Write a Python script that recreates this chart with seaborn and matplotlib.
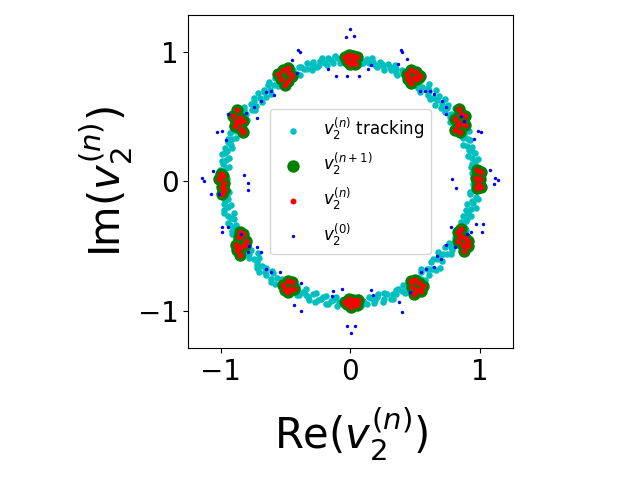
import numpy as np
import pandas as pd
import matplotlib
matplotlib.use("Agg")
import matplotlib.pyplot as plt
import seaborn as sns

# ---- v2^(n) tracking (magnitude, phase in degrees) ----
track_phase_deg = [
    88, 86, 84, 82, 81, 79, 77, 76, 74, 72, 70, 68, 66, 64,
    58, 56, 55, 53, 52, 50, 48, 47, 45, 44, 42, 40, 38, 36, 34, 32,
    28, 26, 24, 22, 20, 18, 16, 15, 13, 11, 9, 7, 5, 3,
    -3, -5, -7, -9, -11, -13, -15, -17, -19, -21, -23, -25, -27,
    -33, -35, -36, -38, -39, -41, -42, -44, -45, -47, -48, -50, -52, -54, -56, -58,
    -62, -64, -66, -68, -70, -72, -74, -76, -78, -80, -82, -84, -86, -88,
    -92, -94, -96, -98, -100, -102, -104, -106, -108, -110, -112, -114, -116, -118,
    -122, -124, -126, -127, -129, -131, -133, -135, -136, -138, -140, -141, -143, -145, -147, -149,
    -152, -154, -156, -158, -160, -162, -164, -166, -168, -170, -172, -174, -176, -178,
    178, 176, 174, 172, 170, 168, 166, 164, 162, 160, 158, 156, 154, 152,
    148, 146, 144, 142, 141, 139, 137, 135, 133, 131, 129, 127, 125, 123, 121,
    118, 116, 114, 112, 110, 108, 106, 104, 102, 100, 98, 96, 94, 92,
    87, 85, 83, 80, 78, 75, 73, 71, 69, 67, 65, 62,
    59, 57, 54, 51, 49, 46, 43, 41, 39, 37, 35, 33, 31,
    29, 27, 25, 23, 21, 19, 17, 14, 12, 10, 8, 6, 4, 2, 1,
    -1, -2, -4, -6, -8, -10, -12, -14, -16, -18, -20, -22, -24, -26, -28, -29,
    -31, -32, -34, -37, -40, -43, -46, -49, -51, -53, -55, -57, -59,
    -61, -63, -65, -67, -69, -71, -73, -75, -77, -79, -81, -83, -85, -87, -89,
    -91, -93, -95, -97, -99, -101, -103, -105, -107, -109, -111, -113, -115, -117, -119,
    -121, -123, -125, -128, -130, -132, -134, -137, -139, -142, -144, -146, -148, -150,
    -151, -153, -155, -157, -159, -161, -163, -165, -167, -169, -171, -173, -175, -177, -179,
    179, 177, 175, 173, 171, 169, 167, 165, 163, 161, 159, 157, 155, 153, 151,
    149, 147, 145, 143, 140, 138, 136, 134, 132, 130, 128, 126, 124, 122, 120,
    119, 117, 115, 113, 111, 109, 107, 105, 103, 101, 99, 97, 95, 93, 91,
]
track_mag = [
    0.93, 0.95, 0.92, 0.96, 0.93, 0.94, 0.91, 0.95, 0.93, 0.96, 0.92, 0.94, 0.90, 0.93,
    0.93, 0.90, 0.96, 0.92, 0.88, 0.94, 0.90, 0.97, 0.91, 0.95, 0.88, 0.93, 0.96, 0.91, 0.94, 0.97,
    0.97, 0.94, 0.99, 0.95, 0.97, 0.92, 0.98, 0.95, 0.99, 0.96, 0.98, 0.94, 0.97, 1.00,
    0.97, 0.93, 0.98, 0.95, 0.92, 0.96, 0.94, 0.91, 0.95, 0.93, 0.97, 0.90, 0.94,
    0.93, 0.89, 0.96, 0.91, 0.87, 0.94, 0.90, 0.96, 0.88, 0.93, 0.91, 0.95, 0.89, 0.93, 0.96, 0.91,
    0.93, 0.96, 0.91, 0.94, 0.97, 0.92, 0.95, 0.90, 0.94, 0.92, 0.96, 0.93, 0.90, 0.95,
    0.95, 0.92, 0.97, 0.93, 0.96, 0.91, 0.94, 0.97, 0.92, 0.95, 0.90, 0.96, 0.93, 0.97,
    0.96, 0.93, 0.98, 0.94, 0.97, 0.92, 0.96, 0.99, 0.94, 0.97, 0.92, 0.95, 0.98, 0.93, 0.96, 0.99,
    0.98, 0.95, 1.00, 0.96, 0.99, 0.94, 0.98, 1.00, 0.96, 0.99, 0.95, 1.01, 0.97, 0.99,
    0.98, 1.00, 0.96, 0.99, 0.97, 1.01, 0.98, 0.95, 0.99, 0.97, 1.00, 0.96, 0.98, 0.95,
    0.96, 0.99, 0.94, 0.97, 0.93, 0.98, 0.95, 0.92, 0.97, 0.94, 0.99, 0.93, 0.96, 0.98, 0.94,
    0.96, 0.93, 0.97, 0.94, 0.98, 0.95, 0.92, 0.96, 0.94, 0.97, 0.93, 0.96, 0.94, 0.97,
    0.96, 0.91, 0.94, 0.97, 0.92, 0.94, 0.90, 0.94, 0.97, 0.91, 0.95, 0.96,
    0.97, 0.94, 0.89, 0.97, 0.93, 0.89, 0.92, 0.97, 0.90, 0.94, 0.99, 0.92, 0.90,
    0.93, 0.98, 0.93, 1.00, 0.93, 0.98, 0.94, 0.97, 0.93, 1.00, 0.95, 0.99, 0.94, 0.96, 1.01,
    0.95, 1.00, 0.96, 0.93, 1.00, 0.96, 0.99, 0.92, 0.97, 0.95, 0.91, 0.96, 0.93, 0.97, 0.92, 0.95,
    0.96, 0.90, 0.95, 0.94, 0.90, 0.88, 0.95, 0.90, 0.87, 0.96, 0.91, 0.94, 0.95,
    0.96, 0.90, 0.94, 0.91, 0.93, 0.96, 0.90, 0.97, 0.92, 0.96, 0.91, 0.95, 0.97, 0.92, 0.94,
    0.92, 0.96, 0.94, 0.90, 0.94, 0.97, 0.92, 0.95, 0.90, 0.97, 0.94, 0.93, 0.97, 0.91, 0.94,
    0.93, 0.97, 0.92, 0.99, 0.93, 0.97, 0.93, 0.98, 0.95, 0.90, 0.96, 0.95, 0.93, 0.96,
    0.95, 0.99, 0.93, 0.99, 0.94, 1.00, 0.96, 0.93, 1.00, 0.94, 0.98, 0.96, 0.94, 1.00, 0.96,
    0.95, 0.97, 1.01, 0.94, 1.00, 0.95, 0.99, 1.00, 0.96, 1.00, 0.94, 0.99, 1.01, 0.97, 0.99,
    0.93, 0.96, 1.00, 0.92, 0.97, 0.92, 0.99, 0.96, 0.91, 0.98, 0.95, 0.99, 0.92, 0.95, 0.97,
    0.93, 0.97, 0.91, 0.96, 0.93, 0.91, 0.97, 0.93, 0.98, 0.92, 0.95, 0.98, 0.92, 0.95, 0.93,
]

# ---- v2^(n+1) / v2^(n) cluster points (Re, Im) ----
clust_re = [
    -0.04, -0.01, 0.02, 0.05, -0.02, 0.02, 0.04, 0.00,
    -0.56, -0.52, -0.48, -0.45, -0.53, -0.48, -0.50, -0.47,
    0.44, 0.47, 0.51, 0.54, 0.45, 0.49, 0.52, 0.47,
    0.84, 0.86, 0.89, 0.81, 0.84, 0.89, 0.81, 0.85, 0.83,
    0.98, 1.01, 0.97, 1.00, 0.99, 1.01, 0.98,
    0.83, 0.86, 0.85, 0.89, 0.83, 0.87, 0.91, 0.88, 0.91,
    0.47, 0.50, 0.53, 0.56, 0.48, 0.52, 0.55, 0.49,
    -0.04, -0.01, 0.02, 0.06, -0.02, 0.02, 0.05, 0.01,
    -0.52, -0.48, -0.45, -0.50, -0.47, -0.43, -0.48,
    -0.85, -0.83, -0.86, -0.80, -0.88, -0.84, -0.81, -0.85, -0.87,
    -1.00, -0.98, -1.01, -0.97, -0.99, -0.97, -0.99,
    -0.87, -0.90, -0.85, -0.88, -0.83, -0.89, -0.84, -0.83, -0.85,
]
clust_im = [
    0.96, 0.98, 0.97, 0.96, 0.93, 0.93, 0.91, 0.91,
    0.83, 0.86, 0.88, 0.82, 0.79, 0.78, 0.75, 0.84,
    0.83, 0.86, 0.85, 0.82, 0.79, 0.80, 0.79, 0.76,
    0.56, 0.52, 0.51, 0.48, 0.45, 0.44, 0.40, 0.38, 0.44,
    0.09, 0.07, 0.03, 0.02, -0.02, -0.04, -0.05,
    -0.39, -0.37, -0.42, -0.44, -0.46, -0.49, -0.50, -0.54, -0.46,
    -0.77, -0.76, -0.79, -0.81, -0.82, -0.84, -0.85, -0.87,
    -0.93, -0.91, -0.92, -0.92, -0.95, -0.94, -0.96, -0.97,
    -0.80, -0.77, -0.78, -0.84, -0.83, -0.83, -0.86,
    -0.39, -0.41, -0.43, -0.46, -0.49, -0.51, -0.49, -0.57, -0.53,
    0.06, 0.04, 0.02, -0.01, -0.04, -0.07, -0.10,
    0.55, 0.51, 0.49, 0.46, 0.47, 0.43, 0.41, 0.38, 0.46,
]

# ---- v2^(0) initial points (Re, Im) ----
init_re = [
    0.00, 0.03, -0.03, -0.40, -0.39, -0.45, -0.41, -0.17, -0.11, -0.02, 0.07, 0.14, 0.16,
    0.39, 0.40, 0.44, 0.37, 0.54, 0.58, 0.62, 0.65, 0.71, 0.74, 0.74,
    -0.61, -0.65, -0.59, -0.69, -0.74, -0.80, -0.72, -0.94, -0.99, -1.03, -0.96,
    -1.06, -1.14, -1.13, -1.07, -0.82, -0.79, -0.79, -1.01, -0.99, -0.94, -0.99, -0.84,
    -0.72, -0.78, -0.69, -0.79, -0.65, -0.61, -0.54, -0.38, -0.43, -0.38, -0.13, -0.06,
    0.16, 0.18, -0.14, -0.02, 0.01, 0.04, 0.38, 0.40, 0.46, 0.55, 0.59, 0.65, 0.67, 0.70,
    0.74, 0.81, 0.78, 0.90, 0.93, 1.03, 1.02, 0.97, 1.08, 1.12, 1.14, 1.11, 0.79, 0.82,
    0.99, 1.01, 0.96, 0.86, 0.88,
]
init_im = [
    1.18, 1.13, 1.12, 1.02, 1.00, 0.94, 0.84, 0.87, 0.82, 0.82, 0.82, 0.87, 0.90,
    1.02, 1.00, 0.95, 0.91, 0.70, 0.70, 0.70, 0.68, 0.62, 0.58, 0.52,
    0.70, 0.69, 0.67, 0.62, 0.58, 0.53, 0.49, 0.52, 0.39, 0.38, 0.32,
    0.08, 0.03, 0.00, -0.10, 0.05, -0.01, -0.07, -0.10, -0.35, -0.35, -0.39, -0.41,
    -0.51, -0.50, -0.55, -0.55, -0.68, -0.70, -0.70, -0.79, -0.96, -1.00, -0.85, -0.83,
    -0.84, -0.88, -0.89, -1.12, -1.17, -1.12, -0.93, -1.01, -0.86, -0.70, -0.68, -0.66, -0.58, -0.60,
    -0.49, -0.51, -0.35, -0.41, -0.39, -0.33, -0.39, -0.33, 0.09, 0.03, 0.01, -0.02, 0.02, -0.05,
    0.39, 0.38, 0.33, 0.51, 0.47,
]

ticks = [-1, 0, 1]

phase = np.deg2rad(track_phase_deg)
track = pd.DataFrame({"re": np.asarray(track_mag) * np.cos(phase),
                      "im": np.asarray(track_mag) * np.sin(phase)})
clust = pd.DataFrame({"re": clust_re, "im": clust_im})
init = pd.DataFrame({"re": init_re, "im": init_im})

fig = plt.figure(figsize=(6.4, 4.8), dpi=100)
ax = fig.add_axes([0.294, 0.275, 0.508, 0.694])

sns.scatterplot(data=track, x="re", y="im", ax=ax, color="c", s=22, linewidth=0,
                label=r"$v_2^{(n)}$ tracking")
sns.scatterplot(data=clust, x="re", y="im", ax=ax, color="g", s=80, linewidth=0,
                label=r"$v_2^{(n+1)}$")
sns.scatterplot(data=clust, x="re", y="im", ax=ax, color="r", s=18, linewidth=0,
                label=r"$v_2^{(n)}$")
sns.scatterplot(data=init, x="re", y="im", ax=ax, color="b", s=6, linewidth=0,
                label=r"$v_2^{(0)}$")

ax.set_xlim(-1.25, 1.26)
ax.set_ylim(-1.29, 1.29)
ax.set_xticks(ticks)
ax.set_yticks(ticks)
ax.tick_params(labelsize=20)
ax.set_xlabel(r"Re$(v_2^{(n)})$", fontsize=30, labelpad=14)
ax.set_ylabel(r"Im$(v_2^{(n)})$", fontsize=30, labelpad=2)
ax.legend(loc="center", fontsize=12)

fig.savefig("out.png", dpi=100)
